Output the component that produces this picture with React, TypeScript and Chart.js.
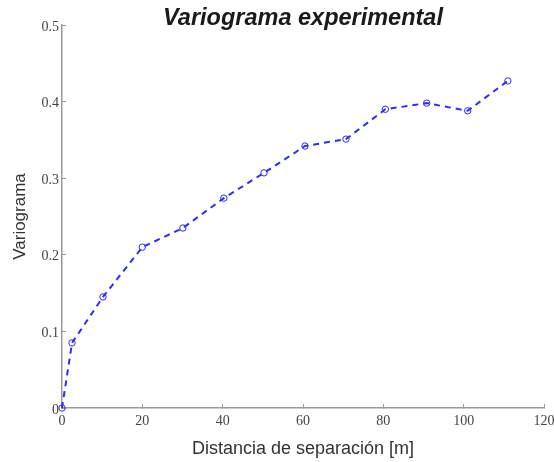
import React, { useEffect, useRef } from "react";
import { Chart, registerables } from "chart.js";

Chart.register(...registerables);

const lagDistances = [0, 2.5, 10.2, 20, 30.1, 40.3, 50.3, 60.5, 70.7, 80.5, 90.8, 101, 111];
const variogramValues = [0, 0.085, 0.145, 0.21, 0.235, 0.274, 0.307, 0.342, 0.351, 0.39, 0.398, 0.388, 0.427];
const titleText = "Variograma experimental";
const xAxisTitle = "Distancia de separación [m]";
const yAxisTitle = "Variograma";

export default function App() {
  const ref = useRef<HTMLCanvasElement | null>(null);
  useEffect(() => {
    if (!ref.current) return;
    const points = lagDistances.map((x, i) => ({ x, y: variogramValues[i] }));
    const tickFont = { family: "'Liberation Serif', 'Times New Roman', serif", size: 14 };
    const chart = new Chart(ref.current, {
      type: "scatter",
      data: {
        datasets: [
          {
            data: points,
            showLine: true,
            borderColor: "#2b2bff",
            borderWidth: 2,
            borderDash: [6, 5],
            pointRadius: 3.2,
            pointBorderWidth: 1,
            pointBorderColor: "#2b2bff",
            pointBackgroundColor: "rgba(255,255,255,0)",
            clip: false,
          } as any,
        ],
      },
      options: {
        animation: false,
        responsive: false,
        events: [],
        layout: { padding: { left: 0, right: 10, top: 0, bottom: 0 } },
        plugins: {
          legend: { display: false },
          tooltip: { enabled: false },
          title: {
            display: true,
            fullSize: false,
            text: titleText,
            color: "#1a1a1a",
            font: { family: "'Liberation Sans', Arial, sans-serif", size: 23.5, weight: "bold", style: "italic" },
            padding: { top: 4.8, bottom: -8 },
          },
        },
        scales: {
          x: {
            type: "linear",
            min: 0,
            max: 120,
            ticks: { stepSize: 20, color: "#444", font: tickFont, padding: 9 },
            grid: { drawOnChartArea: false, tickLength: -4, color: "#999" },
            border: { color: "#999", width: 1.5 },
            title: {
              display: true,
              text: xAxisTitle,
              color: "#333",
              font: { family: "'Liberation Sans', Arial, sans-serif", size: 18 },
              padding: { top: 0, bottom: 2 },
            },
            afterFit: (s: any) => {
              s.height = 54;
              s.paddingLeft = 0;
              s.paddingRight = 0;
            },
          },
          y: {
            type: "linear",
            min: 0,
            max: 0.5,
            ticks: { stepSize: 0.1, color: "#444", font: tickFont, padding: 7, labelOffset: 2 },
            grid: { drawOnChartArea: false, tickLength: -4, color: "#999" },
            border: { color: "#999", width: 1.5 },
            title: {
              display: true,
              text: yAxisTitle,
              color: "#333",
              font: { family: "'Liberation Sans', Arial, sans-serif", size: 17 },
              padding: { top: 10.4, bottom: 0 },
            },
            afterFit: (s: any) => {
              s.width = 62;
              s.paddingTop = 0;
              s.paddingBottom = 0;
            },
          },
        },
      } as any,
    });
    return () => chart.destroy();
  }, []);
  return (
    <div style={{ position: "fixed", left: 0, top: 0, width: 554, height: 462, background: "#fff" }}>
      <canvas ref={ref} width={554} height={462} style={{ display: "block" }} />
    </div>
  );
}
